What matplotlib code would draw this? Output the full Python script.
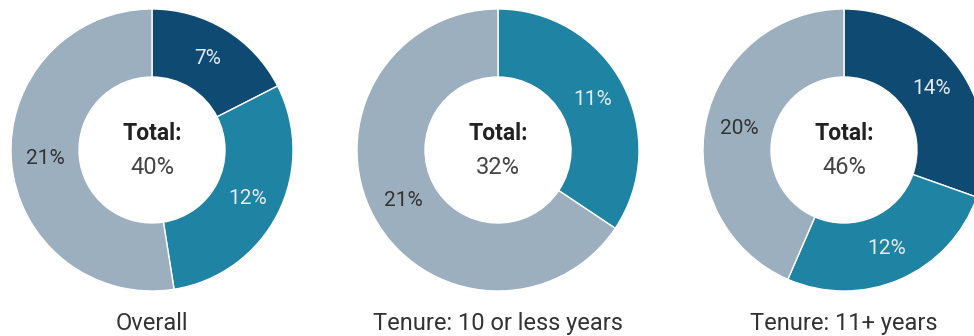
import matplotlib
matplotlib.use("Agg")
import matplotlib.pyplot as plt

plt.rcParams['font.family'] = ['Roboto', 'DejaVu Sans']

# share of respondents per group
titles = ["Overall", "Tenure: 10 or less years", "Tenure: 11+ years"]
navy_vals = [7, 0, 14]
teal_vals = [12, 11, 12]
gray_vals = [21, 21, 20]

colors = ["#0f4a73", "#1f83a3", "#9bafbf"]
text_colors = ["#e4eaf0", "#e4eaf0", "#333333"]

W, H = 974, 336
fig = plt.figure(figsize=(W / 100, H / 100), dpi=100)
ax = fig.add_axes([0, 0, 1, 1])

centers_x = [152, 498, 844]
cy = H - 150
R = 141
ring = 68

for i, title in enumerate(titles):
    vals = [navy_vals[i], teal_vals[i], gray_vals[i]]
    keep = [j for j, v in enumerate(vals) if v > 0]
    v = [vals[j] for j in keep]
    wedges, texts = ax.pie(
        v,
        colors=[colors[j] for j in keep],
        labels=[f"{x}%" for x in v],
        labeldistance=(R - ring / 2) / R,
        startangle=90,
        counterclock=False,
        center=(centers_x[i], cy),
        radius=R,
        wedgeprops=dict(width=ring, edgecolor="white", linewidth=1),
        textprops=dict(fontsize=15),
        frame=True,
    )
    for t, j in zip(texts, keep):
        t.set_ha("center")
        t.set_va("center")
        t.set_color(text_colors[j])
    ax.text(centers_x[i], cy + 16, "Total:", ha="center", va="center",
            fontsize=16.5, fontweight="bold", color="#222222")
    ax.text(centers_x[i], cy - 18, f"{sum(vals)}%", ha="center", va="center",
            fontsize=17, color="#444444")
    ax.text(centers_x[i], 6, title, ha="center", va="baseline",
            fontsize=17, color="#333333")

ax.set_xlim(0, W)
ax.set_ylim(0, H)
ax.set_aspect("equal")
ax.axis("off")

fig.savefig("out.png", dpi=100)
